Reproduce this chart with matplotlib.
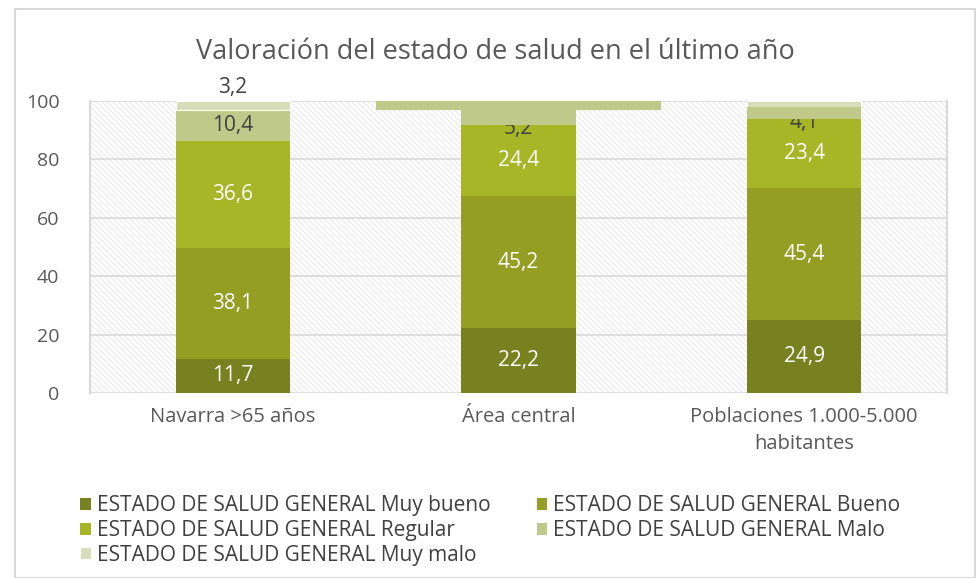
import matplotlib
matplotlib.use("Agg")
import matplotlib.pyplot as plt
import numpy as np
from matplotlib.patches import Rectangle

categories = ["Navarra >65 años", "Área central", "Poblaciones 1.000-5.000\nhabitantes"]
series_names = ["ESTADO DE SALUD GENERAL Muy bueno", "ESTADO DE SALUD GENERAL Bueno",
                "ESTADO DE SALUD GENERAL Regular", "ESTADO DE SALUD GENERAL Malo",
                "ESTADO DE SALUD GENERAL Muy malo"]
muy_bueno = [11.7, 22.2, 24.9]
bueno = [38.1, 45.2, 45.4]
regular = [36.6, 24.4, 23.4]
malo = [10.4, 5.2, 4.1]
muy_malo = [3.2, 3.0, 2.2]
colors = ["#77811f", "#939e22", "#a7b627", "#bfca8a", "#d7ddb8"]
text_colors = ["white", "white", "white", "#404040", "#404040"]

plt.rcParams['font.family'] = ['Open Sans', 'DejaVu Sans']
plt.rcParams['hatch.linewidth'] = 1.0
plt.rcParams['hatch.color'] = '#ededed'

fig = plt.figure(figsize=(9.77, 5.78), dpi=100)
fig.patches.append(Rectangle((15/977, 0), 960/977, 1 - 9/578, transform=fig.transFigure,
                             fill=False, edgecolor='#d9d9d9', linewidth=1.5))
ax = fig.add_axes([90/977, (578-393)/578, 857/977, 292/578])
ax.add_patch(Rectangle((0, 0), 1, 1, transform=ax.transAxes, facecolor='white',
                       hatch='\\\\\\\\\\\\', edgecolor='#ededed', linewidth=0, zorder=0))

x = np.arange(len(categories))
data = [muy_bueno, bueno, regular, malo, muy_malo]
bottom = np.zeros(len(categories))
width = 0.4
lab_fs = 15
for i, (vals, name) in enumerate(zip(data, series_names)):
    vals = np.array(vals)
    ax.bar(x, vals, width, bottom=bottom, color=colors[i], label=name, zorder=3,
           edgecolor='white' if i == 4 else 'none', linewidth=0.8 if i == 4 else 0)
    for j in range(len(x)):
        lbl = f"{vals[j]:.1f}".replace('.', ',')
        if i < 3:
            ax.text(x[j], bottom[j] + vals[j] / 2, lbl, ha='center', va='center',
                    color=text_colors[i], fontsize=lab_fs, zorder=5)
        elif i == 3:
            if j == 0:
                ax.text(x[j], bottom[j] + vals[j] / 2, lbl, ha='center', va='center',
                        color=text_colors[i], fontsize=lab_fs, zorder=5)
            else:
                ax.text(x[j], bottom[j] - 1.2, lbl, ha='center', va='center',
                        color='#404040', fontsize=lab_fs, zorder=3.05)
        else:
            if j == 0:
                ax.text(x[j], 104.5, lbl, ha='center', va='center', color='#404040',
                        fontsize=lab_fs, zorder=5, clip_on=False)
    if i == 3:
        # Malo segments drawn above their hidden labels (as in the reference)
        ax.bar(x[1:], vals[1:], width, bottom=bottom[1:], color=colors[3], zorder=3.1)
    if i == 4:
        # Área central top segment rendered as a wide band in the reference
        ax.bar(x[1], vals[1], 1.0, bottom=bottom[1], color=colors[3], zorder=3.5)
        ax.bar(x[1], vals[1] + 0.01, width, bottom=bottom[1], color=colors[3], zorder=3.6)
    bottom += vals

ax.set_xlim(-0.5, 2.5)
ax.set_ylim(0, 100)
ax.set_yticks([0, 20, 40, 60, 80, 100])
ax.yaxis.grid(True, color='#d9d9d9', linewidth=1.2, zorder=1)
ax.set_axisbelow(True)
ax.set_xticks(x)
ax.set_xticklabels(categories, fontsize=14.5, color='#595959', linespacing=1.45)
ax.tick_params(axis='y', labelsize=14, labelcolor='#595959', length=0, pad=22)
ax.tick_params(axis='x', length=0, pad=10)
for s in ['top', 'bottom']:
    ax.spines[s].set_visible(False)
for s in ['left', 'right']:
    ax.spines[s].set_color('#d9d9d9')
    ax.spines[s].set_linewidth(1.5)

fig.text(495/977, 1 - 52/578, "Valoración del estado de salud en el último año",
         ha='center', va='center', fontsize=19.5, color='#595959')

handles, labels = ax.get_legend_handles_labels()
order = [0, 2, 4, 1, 3]
leg = fig.legend([handles[k] for k in order], [labels[k] for k in order],
                 loc='upper left', bbox_to_anchor=(70/977, 1 - 485/578),
                 ncol=2, frameon=False, fontsize=15, handlelength=0.5, handleheight=0.5,
                 handletextpad=0.3, columnspacing=2.2, labelspacing=0.17, borderpad=0)
for t in leg.get_texts():
    t.set_color('#404040')

fig.savefig("out.png", dpi=100)
